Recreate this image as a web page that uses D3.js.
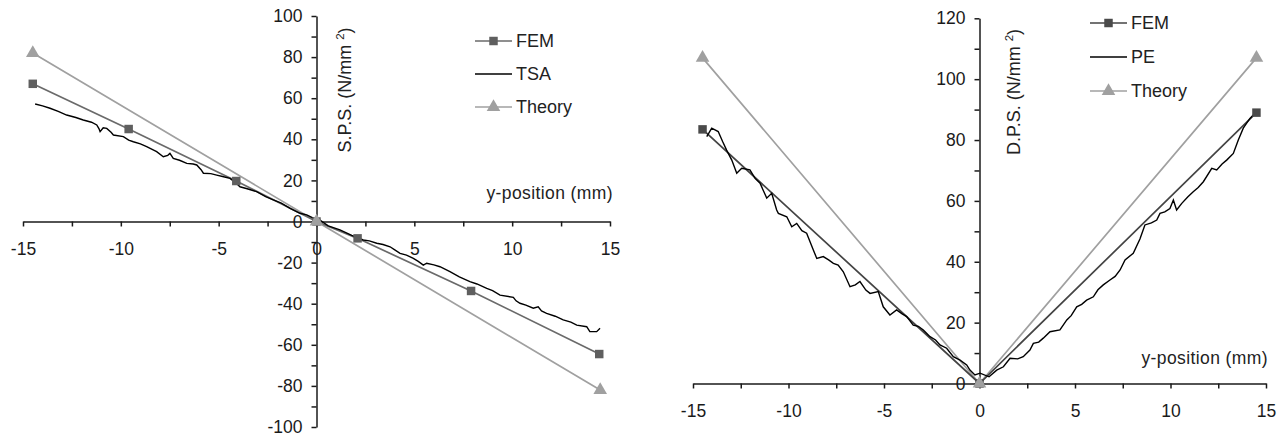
<!DOCTYPE html>
<html><head><meta charset="utf-8">
<script src="https://cdn.jsdelivr.net/npm/d3@7"></script>
<style>
body{margin:0;background:#fff;}
svg{display:block;font-family:"Liberation Sans",Arial,sans-serif;}
.axis path,.axis line{stroke:#1a1a1a;stroke-width:1.5;}
.axis text{fill:#1a1a1a;font-size:17.5px;font-family:"Liberation Sans",Arial,sans-serif;}
</style></head>
<body>
<svg id="c" width="1288" height="439"></svg>
<script>
// ---------- DATA ----------
const xTickLabels = [-15,-10,-5,0,5,10,15];
const xMinorTicks = [-12.5,-7.5,-2.5,2.5,7.5,12.5];
const leftYTickLabels = [-100,-80,-60,-40,-20,0,20,40,60,80,100];
const leftYMinorTicks = [-90,-70,-50,-30,-10,10,30,50,70,90];
const rightYTickLabels = [0,20,40,60,80,100,120];
const rightYMinorTicks = [10,30,50,70,90,110];

// Left chart: S.P.S.
const spsFEM = [[-14.5,67],[-9.6,45],[-4.1,19.7],[0,0],[2.1,-8.2],[7.9,-33.8],[14.45,-64.5]];
const spsTheory = [[-14.5,82],[0,0],[14.5,-82]];
const spsTSA = [[-14.38,57.2],[-14.0,56.3],[-13.62,55.1],[-13.2,53.6],[-12.77,51.8],[-12.3,50.6],[-11.92,49.4],[-11.5,48.3],[-11.23,47],[-11.12,45.2],[-11.06,43.7],[-10.9,45.6],[-10.72,45.3],[-10.5,43.4],[-10.38,42.1],[-9.87,41.3],[-9.6,39.6],[-9.36,38.8],[-9.0,37.8],[-8.68,36.4],[-8.4,35.1],[-8.17,34],[-7.83,31.5],[-7.6,32.2],[-7.49,33.2],[-7.32,30.7],[-7.0,29.8],[-6.63,28.3],[-6.3,28.0],[-6.12,27.5],[-5.9,25.2],[-5.78,23.5],[-5.4,23.3],[-5.1,22.6],[-4.8,21.9],[-4.42,21],[-4.1,18.6],[-3.91,16.9],[-3.5,15.8],[-3.06,14.5],[-2.6,12.1],[-2.21,10.5],[-1.8,8.9],[-1.35,6.4],[-0.84,4],[-0.5,3.2],[-0.16,1.6],[0.18,0.7],[0.6,-2.1],[1.2,-4.1],[1.8,-6.8],[2.39,-9],[2.7,-9.4],[3.08,-10.6],[3.4,-11.2],[3.76,-12.3],[4.0,-13.8],[4.27,-15.5],[4.6,-16.4],[4.95,-17.9],[5.2,-19.4],[5.46,-21.2],[5.63,-20.3],[6.0,-21.1],[6.31,-22],[6.82,-24.4],[7.3,-26.9],[7.84,-29.3],[8.2,-30.4],[8.7,-32.5],[9.0,-33.6],[9.38,-35.8],[10.06,-36.9],[10.2,-38.6],[10.4,-39.8],[10.7,-40.7],[11.08,-42.2],[11.33,-41.5],[11.5,-43.5],[11.76,-44.7],[12.2,-46.1],[12.61,-47.9],[13.0,-49.0],[13.3,-50.4],[13.81,-51.2],[13.97,-53.6],[14.32,-53.6],[14.49,-52]];

// Right chart: D.P.S.
const dpsFEM = [[-14.5,83.5],[0,0],[14.5,89]];
const dpsTheory = [[-14.5,107],[0,0],[14.5,107]];
const dpsPE = [[-14.28,81.1],[-14.02,83.9],[-13.68,82.8],[-13.45,79.5],[-13.24,76.7],[-12.97,73.4],[-12.71,69.1],[-12.45,70.7],[-12.02,70.2],[-11.75,67.4],[-11.49,65.8],[-11.14,60.9],[-10.88,62.5],[-10.62,57],[-10.53,55.9],[-10.09,54.8],[-9.83,51.5],[-9.57,52.6],[-9.3,50.2],[-9.05,49.4],[-8.7,43.9],[-8.52,41.1],[-8.18,41.7],[-7.9,40.6],[-7.65,39.5],[-7.4,38.9],[-7.13,36.7],[-6.78,31.8],[-6.5,32.4],[-6.26,33.5],[-5.95,30.7],[-5.73,29.6],[-5.3,30.2],[-5.04,25.2],[-4.69,22.5],[-4.34,24.2],[-4.05,22.9],[-3.81,22],[-3.47,19.2],[-3.2,18.8],[-2.94,17.6],[-2.59,15.4],[-2.3,14.3],[-2.07,12.7],[-1.72,11.6],[-1.37,8.8],[-1.02,7.7],[-0.67,6.1],[-0.5,4.4],[-0.24,2.8],[0.03,3.4],[0.5,2.2],[0.9,4.4],[1.25,5.5],[1.6,8.3],[2.0,8.1],[2.29,8.8],[2.64,11],[2.82,13.2],[3.1,13.6],[3.34,14.9],[3.69,17],[4.21,17.6],[4.57,20.9],[4.8,22.3],[5.09,25.2],[5.35,26.0],[5.61,27.4],[5.96,28.5],[6.2,30.8],[6.48,32.4],[6.83,34],[7.1,35.2],[7.36,37.3],[7.62,40.6],[8.05,42.8],[8.4,47.5],[8.66,52.1],[9.0,52.8],[9.28,53.7],[9.45,55.9],[9.7,56.4],[9.97,57.5],[10.15,60.3],[10.32,57],[10.59,59.2],[10.9,61.3],[11.19,63],[11.45,64.4],[11.72,66.3],[12.16,70.7],[12.42,70.2],[12.7,72.1],[12.94,73.4],[13.29,75.6],[13.55,80],[13.81,83.9],[14.16,87.1],[14.42,88.8]];

// ---------- DRAW ----------
const svg = d3.select("#c");
const fmt = d => d3.format("d")(d).replace("−","-");

function drawChart(cfg){
  const g = svg.append("g");
  const x = d3.scaleLinear().domain(cfg.xDomain).range(cfg.xRange);
  const y = d3.scaleLinear().domain(cfg.yDomain).range(cfg.yRange);
  // x axis
  g.append("g").attr("class","axis").attr("transform",`translate(0,${y(0)})`)
    .call(d3.axisBottom(x).tickValues(xTickLabels).tickSize(5).tickPadding(16).tickSizeOuter(0).tickFormat(fmt));
  g.append("g").attr("class","axis").attr("transform",`translate(0,${y(0)})`)
    .call(d3.axisBottom(x).tickValues(xMinorTicks).tickSize(5).tickSizeOuter(0).tickFormat(""))
    .select(".domain").remove();
  // y axis
  g.append("g").attr("class","axis").attr("transform",`translate(${x(0)},0)`)
    .call(d3.axisLeft(y).tickValues(cfg.yTicks).tickSize(5).tickPadding(9).tickSizeOuter(0).tickFormat(fmt));
  g.append("g").attr("class","axis").attr("transform",`translate(${x(0)},0)`)
    .call(d3.axisLeft(y).tickValues(cfg.yMinor).tickSize(5).tickSizeOuter(0).tickFormat(""))
    .select(".domain").remove();

  const line = d3.line().x(d=>x(d[0])).y(d=>y(d[1]));
  // theory
  g.append("path").datum(cfg.theory).attr("d",line).attr("fill","none").attr("stroke","#a0a0a0").attr("stroke-width",1.7);
  // FEM
  g.append("path").datum(cfg.fem).attr("d",line).attr("fill","none").attr("stroke",cfg.femLine).attr("stroke-width",1.7);
  // measured
  g.append("path").datum(cfg.meas).attr("d",line).attr("fill","none").attr("stroke","#000").attr("stroke-width",1.4).attr("stroke-linejoin","miter");
  // markers
  const sq = d3.symbol().type(d3.symbolSquare).size(72);
  const tri = d3.symbol().type(d3.symbolTriangle).size(80);
  g.selectAll(".fm").data(cfg.fem).join("path").attr("d",sq)
    .attr("transform",d=>`translate(${x(d[0])},${y(d[1])})`).attr("fill",cfg.femMark);
  g.selectAll(".tm").data(cfg.theory).join("path").attr("d",tri)
    .attr("transform",d=>`translate(${x(d[0])},${y(d[1])})`).attr("fill","#a0a0a0");

  // axis title
  const t = g.append("text").attr("transform",`translate(${cfg.ytX},${cfg.ytY}) rotate(-90)`)
    .attr("text-anchor","middle").attr("font-size",18).attr("fill","#222");
  t.append("tspan").text(cfg.yTitle+" (N/mm ");
  t.append("tspan").attr("dy",-7).attr("font-size",11.5).text("2");
  t.append("tspan").attr("dy",7).text(")");
  // x title
  g.append("text").attr("x",cfg.xtX).attr("y",cfg.xtY).attr("text-anchor","end")
    .attr("font-size",17.5).attr("fill","#222").attr("letter-spacing",0.4).text("y-position (mm)");

  // legend
  const L = cfg.legend;
  const items = [
    {name:"FEM",stroke:cfg.femLine,mark:"sq",fill:cfg.femMark},
    {name:cfg.measName,stroke:"#000",mark:null},
    {name:"Theory",stroke:"#a0a0a0",mark:"tri",fill:"#a0a0a0"}
  ];
  items.forEach((it,i)=>{
    const yy = L.ys[i];
    g.append("line").attr("x1",L.x1).attr("x2",L.x2).attr("y1",yy).attr("y2",yy)
      .attr("stroke",it.stroke).attr("stroke-width",it.mark?1.7:1.5);
    if(it.mark) g.append("path").attr("d",it.mark==="sq"?sq:tri)
      .attr("transform",`translate(${(L.x1+L.x2)/2},${yy})`).attr("fill",it.fill);
    g.append("text").attr("x",L.x2+4).attr("y",yy).attr("dy","0.36em")
      .attr("font-size",18).attr("fill","#222").text(it.name);
  });
}

drawChart({
  xDomain:[-15,15], xRange:[23,610],
  yDomain:[-100,100], yRange:[427,16],
  yTicks:leftYTickLabels, yMinor:leftYMinorTicks,
  fem:spsFEM, theory:spsTheory, meas:spsTSA, measName:"TSA",
  femLine:"#6a6a6a", femMark:"#5f5f5f",
  yTitle:"S.P.S.", ytX:351, ytY:90,
  xtX:613, xtY:199,
  legend:{x1:475,x2:512,ys:[41,74,107]}
});
drawChart({
  xDomain:[-15,15], xRange:[693,1266],
  yDomain:[0,120], yRange:[383.5,18.3],
  yTicks:rightYTickLabels, yMinor:rightYMinorTicks,
  fem:dpsFEM, theory:dpsTheory, meas:dpsPE, measName:"PE",
  femLine:"#444", femMark:"#4a4a4a",
  yTitle:"D.P.S.", ytX:1020, ytY:92,
  xtX:1268, xtY:364,
  legend:{x1:1090,x2:1127,ys:[23,57,91]}
});
</script>
</body></html>
